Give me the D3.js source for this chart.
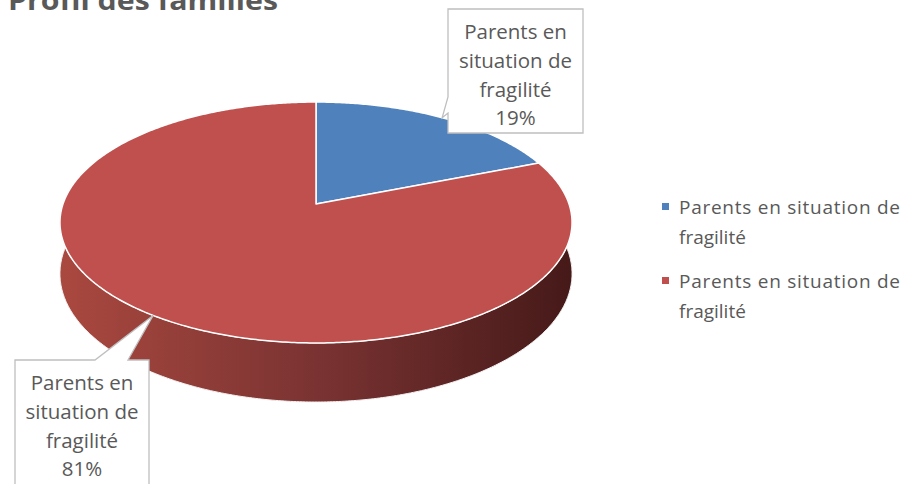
<!DOCTYPE html>
<html><head><meta charset="utf-8">
<script src="https://cdn.jsdelivr.net/npm/d3@7"></script>
<style>body{margin:0;background:#fff}svg{display:block}text{font-variant-ligatures:none}</style>
</head><body>
<script>
const title = "Profil des familles";
const categories = ["Parents en situation de fragilité", "Parents en situation de fragilité"];
const values = [19, 81];
const labelLines = [["Parents en", "situation de", "fragilité"], ["Parents en", "situation de", "fragilité"]];
const colors = ["#4F81BD", "#C0504D"];

const W = 909, H = 484;
const svg = d3.select("body").append("svg").attr("width", W).attr("height", H);
const font = "'Open Sans', sans-serif";

// perspective-projected disc
const cx = 316, cy = 204, s = 253, q = 86.3, k = -0.1535, depth = 50;
function proj(a, r = 1, drop = 0) {
  const x0 = r * Math.sin(a), z = -r * Math.cos(a), den = 1 + k * z;
  return [cx + s * x0 / den, (cy + q * z) / den + drop / den];
}

const pie = d3.pie().sort(null).value(d => d);
const arcs = pie(values);
const sample = (a0, a1) => d3.range(0, 1.0001, 1 / Math.max(2, Math.ceil((a1 - a0) / 0.01))).map(t => a0 + (a1 - a0) * t);

const defs = svg.append("defs");
const grad = defs.append("linearGradient").attr("id", "side").attr("gradientUnits", "userSpaceOnUse")
  .attr("x1", cx - s).attr("x2", cx + s).attr("y1", 0).attr("y2", 0);
grad.append("stop").attr("offset", 0).attr("stop-color", "#A9483F");
grad.append("stop").attr("offset", 0.5).attr("stop-color", "#7A3332");
grad.append("stop").attr("offset", 1).attr("stop-color", "#461A19");
const gradB = defs.append("linearGradient").attr("id", "sideB").attr("gradientUnits", "userSpaceOnUse")
  .attr("x1", cx - s).attr("x2", cx + s).attr("y1", 0).attr("y2", 0);
gradB.append("stop").attr("offset", 0).attr("stop-color", "#4F81BD");
gradB.append("stop").attr("offset", 1).attr("stop-color", "#22385a");

// sides: strip between top rim and bottom rim, front part only visible
arcs.forEach((d, i) => {
  const a0 = Math.max(d.startAngle, Math.PI * 0.4), a1 = Math.min(d.endAngle, Math.PI * 1.6);
  if (a1 <= a0) return;
  const pts = sample(a0, a1);
  const top = pts.map(a => proj(a));
  const bot = pts.map(a => proj(a, 1, depth)).reverse();
  svg.append("path").attr("d", "M" + top.concat(bot).map(p => p.join(",")).join("L") + "Z")
    .attr("fill", i === 1 ? "url(#side)" : "url(#sideB)")
    .attr("stroke", "#f2f2f2").attr("stroke-width", 1);
});

// top faces
arcs.forEach((d, i) => {
  const pts = sample(d.startAngle, d.endAngle).map(a => proj(a));
  const c = proj(0, 0);
  svg.append("path").attr("d", "M" + c.join(",") + "L" + pts.map(p => p.join(",")).join("L") + "Z")
    .attr("fill", colors[i]).attr("stroke", "#fff").attr("stroke-width", 1.5).attr("stroke-linejoin", "round");
});

// title
svg.append("text").attr("x", 8).attr("y", 10).text(title)
  .attr("font-family", font).attr("font-weight", 700).attr("font-size", 27).attr("fill", "#595959")
  .attr("textLength", 270).attr("lengthAdjust", "spacingAndGlyphs");

// callouts
const boxes = [{x: 448, y: 9, w: 135, h: 124, side: "left"}, {x: 15, y: 360, w: 134, h: 140, side: "top"}];
arcs.forEach((d, i) => {
  const mid = (d.startAngle + d.endAngle) / 2;
  const tip = proj(mid);
  const b = boxes[i];
  let path;
  if (b.side === "left") {
    path = `M${b.x},${b.y}H${b.x + b.w}V${b.y + b.h}H${b.x}V${b.y + b.h - 20}L${tip[0]},${tip[1]}L${b.x},${b.y + b.h - 36}Z`;
  } else {
    path = `M${b.x},${b.y}H${b.x + 80}L${tip[0]},${tip[1]}L${b.x + 113},${b.y}H${b.x + b.w}V${b.y + b.h}H${b.x}Z`;
  }
  svg.append("path").attr("d", path).attr("fill", "#fff").attr("stroke", "#bfbfbf").attr("stroke-width", 1.3);
  const lines = labelLines[i].concat([Math.round(d.data) + "%"]);
  const t = svg.append("text").attr("font-family", font).attr("font-size", 20.5).attr("fill", "#595959")
    .attr("text-anchor", "middle");
  lines.forEach((l, j) => t.append("tspan").attr("x", b.x + b.w / 2).attr("y", b.y + 30 + j * 28.8).text(l));
});

// legend
const leg = svg.append("g");
categories.forEach((c, i) => {
  const y0 = 207 + i * 74;
  leg.append("rect").attr("x", 662).attr("y", y0 - 4).attr("width", 7).attr("height", 7).attr("fill", colors[i]);
  const t = leg.append("text").attr("font-family", font).attr("font-size", 19).attr("fill", "#595959");
  t.append("tspan").attr("x", 679).attr("y", y0 + 7).text("Parents en situation de")
    .attr("textLength", 221).attr("lengthAdjust", "spacing");
  t.append("tspan").attr("x", 679).attr("y", y0 + 37).text("fragilité");
});
</script>
</body></html>
